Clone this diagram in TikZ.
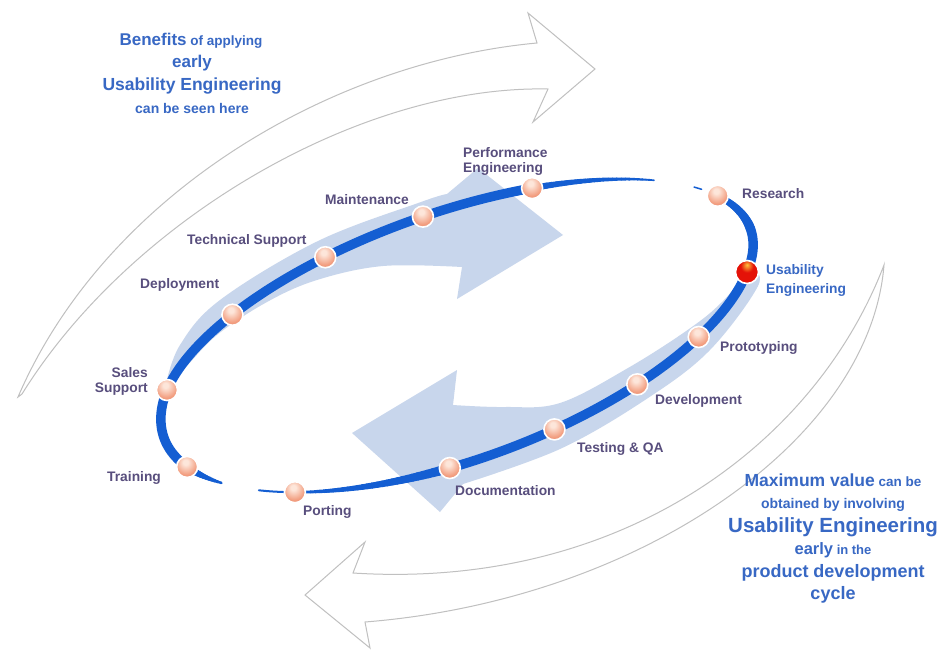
\documentclass[tikz,border=0pt]{standalone}
\usepackage{fontspec}
\setmainfont{Liberation Sans}
\definecolor{blueline}{RGB}{20,94,210}
\definecolor{bandcol}{RGB}{200,214,236}
\definecolor{labcol}{RGB}{88,78,125}
\definecolor{bluetxt}{RGB}{56,104,196}
\definecolor{outcol}{RGB}{192,192,192}
\definecolor{pHi}{RGB}{253,230,218}
\definecolor{pMid}{RGB}{242,158,128}
\definecolor{pEdge}{RGB}{224,108,82}
\definecolor{rHi}{RGB}{255,196,60}
\definecolor{rMid}{RGB}{228,18,8}
\definecolor{rEdge}{RGB}{165,0,0}
\pgfdeclareradialshading{peachball}{\pgfpoint{-4bp}{12bp}}{color(0bp)=(pHi); color(6bp)=(pHi); color(26bp)=(pMid); color(50bp)=(pEdge); color(75bp)=(pEdge)}
\pgfdeclareradialshading{redball}{\pgfpoint{0bp}{16bp}}{color(0bp)=(rHi); color(14bp)=(rMid); color(42bp)=(rMid); color(58bp)=(rEdge); color(80bp)=(rEdge)}
\tikzset{
  lab/.style={anchor=base west, inner sep=0pt, text=labcol, font=\fontsize{13.8}{15}\selectfont\bfseries},
  labr/.style={lab, anchor=base east},
  bt/.style={anchor=base, inner sep=0pt, text=bluetxt, font=\bfseries},
  ball/.style={circle, minimum size=21pt, inner sep=0pt, draw=white, line width=1.6pt, shade, shading=peachball},
  redb/.style={ball, minimum size=23pt, shading=redball},
  outarrow/.style={draw=outcol, line width=1pt, fill=white, line join=miter},
  band/.style={fill=bandcol},
  bline/.style={draw=blueline}
}
\begin{document}
\begin{tikzpicture}[x=1pt,y=-1pt,
  declare function={ex(\x)=457+290*cos(\x)-60*sin(\x);
                    ey(\x)=331-59*cos(\x)+(150-10*(sin(\x)<0))*sin(\x);}]
\useasboundingbox (0,0) rectangle (941,654);
\fill[white] (0,0) rectangle (941,654);

% outer arrows
\coordinate (ta1) at (18,397);
\coordinate (ta2) at (537,43);
\coordinate (ta3) at (548,89);
\coordinate (ta4) at (22,394);
\draw[outarrow] (ta1) .. controls (105,195) and (330,62) .. (ta2)
  -- (528,13) -- (595,69) -- (533,122) -- (ta3)
  .. controls (360,85) and (130,220) .. (ta4) -- cycle;
\coordinate (ba1) at (884,265);
\coordinate (ba2) at (353,573);
\coordinate (ba3) at (365,622);
\draw[outarrow] (ba1) .. controls (815,445) and (620,590) .. (ba2)
  -- (365,542) -- (305,595) -- (370,648) -- (ba3)
  .. controls (640,600) and (870,440) .. (ba1) -- cycle;

% light blue arrows
\fill[band] plot[smooth, tension=0.6] coordinates {(166,384) (180,345) (220,300) (318,241) (421,202) (447,194)}
  -- (478,168) -- (563,235) -- (457,299) -- (462,267)
  -- plot[smooth, tension=0.6] coordinates {(462,267) (383,266) (317,280) (267,302) (217,335) (183,370) (166,384)} -- cycle;
\fill[band] plot[smooth, tension=0.6] coordinates {(751,268) (722,302) (689,329) (628,368) (560,403) (505,407) (453,405)}
  -- (457,370) -- (352,433) -- (440,512) -- (463,484)
  -- plot[smooth, tension=0.6] coordinates {(463,484) (560,449) (645,400) (709,351) (758,286) (751,268)} -- cycle;

% blue cycle line
\foreach \ang in {-40,...,-21}{
  \pgfmathsetmacro\w{6+3.5*(\ang+40)/20}
  \draw[bline, line width=\w pt, line cap=round] ({ex(\ang)},{ey(\ang)}) -- ({ex(\ang+1)},{ey(\ang+1)});}
\draw[bline, line width=9.5pt] plot[domain=-20:80, samples=101, smooth] ({ex(\x)},{ey(\x)});
\foreach \ang in {80,...,110}{
  \pgfmathsetmacro\w{9.5-7.5*(\ang-80)/31}
  \draw[bline, line width=\w pt, line cap=round] ({ex(\ang)},{ey(\ang)}) -- ({ex(\ang+1)},{ey(\ang+1)});}
\draw[bline, line width=2pt, line cap=round] plot[domain=111:120.3, samples=12, smooth] ({ex(\x)},{ey(\x)});
\foreach \ang in {131,...,143}{
  \pgfmathsetmacro\w{2.5+6*(\ang-131)/13}
  \draw[bline, line width=\w pt, line cap=round] ({ex(\ang)},{ey(\ang)}) -- ({ex(\ang+1)},{ey(\ang+1)});}
\draw[bline, line width=9.5pt] plot[domain=144:273, samples=130, smooth] ({ex(\x)},{ey(\x)});
\foreach \ang in {273,...,299}{
  \pgfmathsetmacro\w{6.5-5*(\ang-273)/27}
  \draw[bline, line width=\w pt, line cap=round] ({ex(\ang)},{ey(\ang)}) -- ({ex(\ang+1)},{ey(\ang+1)});}
\draw[bline, line width=1.5pt, line cap=round] ({ex(311.5)},{ey(311.5)}) -- ({ex(314)},{ey(314)});

% balls
\node[ball] (res) at ({ex(320)},{ey(320)}) {};
\node[redb] (use) at ({ex(0)},{ey(0)}) {};
\node[ball] (pro) at ({ex(23.6)},{ey(23.6)}) {};
\node[ball] (dev) at ({ex(40.8)},{ey(40.8)}) {};
\node[ball] (tes) at ({ex(59.1)},{ey(59.1)}) {};
\node[ball] (doc) at ({ex(79.7)},{ey(79.7)}) {};
\node[ball] (por) at ({ex(111.5)},{ey(111.5)}) {};
\node[ball] (tra) at ({ex(144)},{ey(144)}) {};
\node[ball] (sal) at ({ex(180)},{ey(180)}) {};
\node[ball] (dep) at ({ex(209)},{ey(209)}) {};
\node[ball] (tec) at ({ex(231.9)},{ey(231.9)}) {};
\node[ball] (mai) at ({ex(251.7)},{ey(251.7)}) {};
\node[ball] (per) at ({ex(273)},{ey(273)}) {};

% labels
\node[lab] (lres) at (742,198) {Research};
\node[lab, text=bluetxt] (luse1) at (766,274) {Usability};
\node[lab, text=bluetxt] (luse2) at (766,293) {Engineering};
\node[lab] (lper1) at (463,157) {Performance};
\node[lab] (lper2) at (463,172) {Engineering};
\node[lab] (lmai) at (325,204) {Maintenance};
\node[lab] (ltec) at (187,244) {Technical Support};
\node[lab] (ldep) at (140,288) {Deployment};
\node[labr] (lsal1) at (148,377) {Sales};
\node[labr] (lsal2) at (148,392) {Support};
\node[lab] (ltra) at (107,481) {Training};
\node[lab] (lpor) at (303,515) {Porting};
\node[lab] (ldoc) at (455,495) {Documentation};
\node[lab] (ltes) at (577,452) {Testing \& QA};
\node[lab] (ldev) at (655,404) {Development};
\node[lab] (lpro) at (720,351) {Prototyping};

% blue text blocks
\node[bt] (b1) at (191,45) {\fontsize{17}{20}\selectfont Benefits\fontsize{13.5}{16}\selectfont{} of applying};
\node[bt] (b2) at (192,67) {\fontsize{17}{20}\selectfont early};
\node[bt] (b3) at (192,90) {\fontsize{17.5}{20}\selectfont Usability Engineering};
\node[bt] (b4) at (192,113) {\fontsize{14}{16}\selectfont can be seen here};

\node[bt] (m1) at (833,486) {\fontsize{17.5}{20}\selectfont Maximum value\fontsize{13.5}{16}\selectfont{} can be};
\node[bt] (m2) at (833,508) {\fontsize{14}{16}\selectfont obtained by involving};
\node[bt] (m3) at (833,532) {\fontsize{20.5}{24}\selectfont Usability Engineering};
\node[bt] (m4) at (833,554) {\fontsize{16.5}{20}\selectfont early\fontsize{13}{16}\selectfont{} in the};
\node[bt] (m5) at (833,577) {\fontsize{18}{20}\selectfont product development};
\node[bt] (m6) at (833,599) {\fontsize{18}{20}\selectfont cycle};
\end{tikzpicture}
\end{document}
